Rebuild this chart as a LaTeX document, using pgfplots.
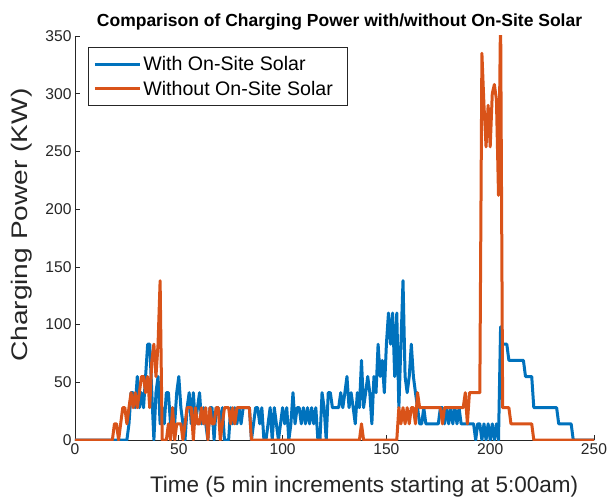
\documentclass[border=0pt]{standalone}
\usepackage{fontspec}
\setmainfont{Liberation Sans}
\usepackage{pgfplots}
\usepackage{pgfplotstable}
\pgfplotsset{compat=1.18}
\definecolor{mblue}{rgb}{0,0.447,0.741}
\definecolor{morange}{rgb}{0.850,0.325,0.098}
\definecolor{maxis}{rgb}{0.15,0.15,0.15}

\pgfplotstableread{
x y
0 0
25 0
26 14
27 41
28 41
29 28
30 55
31 28
32 41
33 28
34 55
35 83
36 83
37 41
38 0
39 41
40 55
41 14
42 28
43 14
44 41
45 41
46 14
47 28
48 14
49 41
50 55
51 28
52 14
53 0
54 28
55 41
56 14
57 41
58 14
59 28
60 41
61 14
62 28
63 14
64 0
65 28
66 28
67 0
68 28
69 28
70 14
71 28
72 0
74 0
75 28
76 14
77 28
78 14
79 28
80 14
81 28
84 28
85 0
86 14
87 28
88 28
89 14
90 28
91 0
92 0
93 14
94 28
95 0
96 28
97 14
98 0
99 14
100 28
101 14
102 28
103 0
104 14
105 41
106 14
107 28
108 28
109 14
110 28
111 14
112 28
113 14
114 28
115 14
116 28
117 0
118 0
119 41
120 28
121 0
122 41
123 41
124 28
127 28
128 41
129 28
130 41
131 55
132 28
133 41
134 28
135 14
136 41
137 28
138 69
139 28
140 41
141 55
142 41
143 14
144 55
145 41
146 83
147 55
148 69
149 41
150 83
151 110
152 83
153 110
154 55
155 110
156 28
157 83
158 138
159 55
160 41
161 55
162 83
163 55
164 41
165 28
166 14
167 14
168 28
169 14
175 14
176 28
177 28
178 14
179 28
180 14
181 28
182 14
183 28
184 14
185 28
186 14
192 14
193 0
194 14
195 14
196 0
197 14
198 0
199 14
200 0
201 14
202 0
203 14
204 0
205 98
206 83
208 83
209 69
216 69
217 55
220 55
221 28
232 28
233 14
239 14
240 0
250 0
}\withsolar

\pgfplotstableread{
x y
0 0
18 0
19 14
20 14
21 0
22 14
23 28
24 28
25 14
26 28
27 41
28 28
29 41
30 28
31 41
32 55
33 55
34 41
35 55
36 28
37 69
38 83
39 55
40 83
41 138
42 0
44 0
45 14
46 0
47 28
48 0
49 14
51 14
52 0
53 14
54 28
56 28
57 0
58 28
59 14
60 14
61 28
62 14
63 28
64 0
65 28
66 14
67 14
68 28
69 28
70 0
71 14
72 28
74 28
75 14
76 28
77 14
78 28
84 28
85 0
137 0
138 14
139 0
155 0
156 28
157 14
158 28
159 14
160 28
161 14
162 28
163 28
164 14
165 41
166 28
176 28
177 14
178 28
187 28
188 41
189 14
190 41
195 41
196 335
197 290
198 254
199 290
200 254
201 300
202 308
203 295
204 212
205 370
206 28
209 28
210 14
220 14
221 0
250 0
}\withoutsolar

\begin{document}
\begin{tikzpicture}
\useasboundingbox[fill=white] (-75pt,-58pt) rectangle (534pt,440pt);
\begin{axis}[
  scale only axis, width=519pt, height=404pt,
  xmin=0, xmax=250, ymin=0, ymax=350,
  xtick={0,50,...,250}, ytick={0,50,...,350},
  axis x line*=bottom, axis y line*=left,
  axis line style={maxis, line width=0.7pt, -},
  tick style={maxis, line width=0.7pt},
  tick align=inside, major tick length=5pt,
  ticklabel style={font=\fontsize{15.6}{18}\selectfont, text=maxis},
  /pgf/number format/assume math mode=true,
  xlabel={Time (5 min increments starting at 5:00am)},
  ylabel={\scalebox{1.25}[1]{Charging Power (KW)}},
  label style={font=\fontsize{22.5}{26}\selectfont, text=maxis},
  xlabel style={at={(ticklabel cs:0.557,15pt)}},
  ylabel style={at={(ticklabel cs:0.532,6pt)}},
  title={Comparison of Charging Power with/without On-Site Solar},
  title style={font=\bfseries\fontsize{17.5}{20}\selectfont, yshift=-4pt, xshift=5pt},
  legend style={at={(axis description cs:0.025,0.973)}, anchor=north west,
    draw=maxis, line width=0.7pt, font=\fontsize{19.6}{22}\selectfont,
    inner xsep=5pt, inner ysep=7pt, row sep=5pt},
  legend cell align=left,
  legend image code/.code={\draw[#1] (0pt,0pt) -- (45pt,0pt);},
  every axis plot/.append style={line width=3pt, line join=round},
]
\addplot[mblue] table[x=x,y=y] {\withsolar};
\addlegendentry{With On-Site Solar}
\addplot[morange] table[x=x,y=y] {\withoutsolar};
\addlegendentry{Without On-Site Solar\hspace*{7pt}}
\end{axis}
\end{tikzpicture}
\end{document}
